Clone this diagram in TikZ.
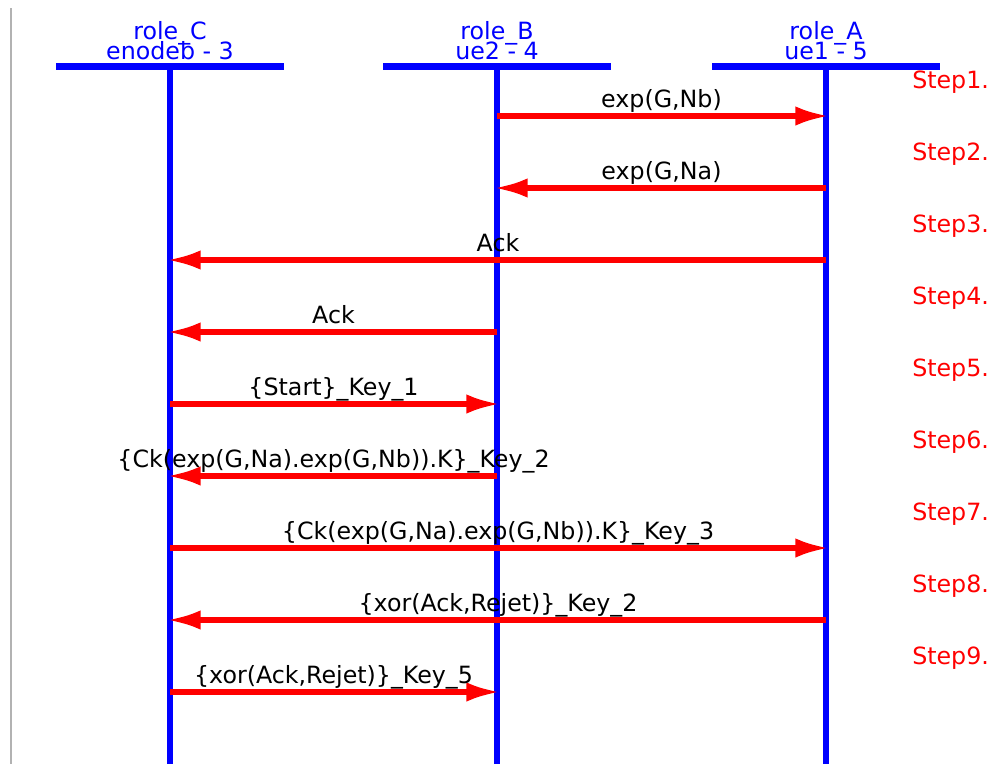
\documentclass[tikz,border=0pt]{standalone}
\usepackage{fontspec}
\setmainfont{DejaVu Sans}
\usetikzlibrary{arrows.meta}

\begin{document}
\begin{tikzpicture}[x=0.75pt,y=-0.75pt,
  role/.style={blue, font=\fontsize{17.8}{20}\selectfont, anchor=base, inner sep=0pt},
  bar/.style={blue, line width=5.25pt},
  life/.style={blue, line width=4.8pt},
  msg/.style={red, line width=4.5pt, shorten >=-3pt, -{Latex[length=26pt,width=14.5pt]}},
  lbl/.style={black, font=\fontsize{17.8}{20}\selectfont, anchor=base, inner sep=0pt, yshift=6.75pt},
  steplbl/.style={red, font=\fontsize{17.8}{20}\selectfont, anchor=base west, inner sep=0pt}]
\useasboundingbox (0,0) rectangle (989,764);
\draw[black!30, line width=1.5pt] (11,8) -- (11,764);

% roles with their lifelines, one coordinate per step
\foreach \r/\x/\who in {C/170/enodeb - 3, B/497/ue2 - 4, A/826/ue1 - 5} {
  \node[role] (role\r) at (\x,39) {role\_\r};
  \node[role] (agent\r) at (\x,59) {\who};
  \coordinate (top\r) at (\x,66);
  \coordinate (bot\r) at (\x,764);
  \draw[bar] ([xshift=-85.5pt]top\r) -- ([xshift=85.5pt]top\r);
  \draw[life] (top\r) -- (bot\r);
  \foreach \i in {1,...,9}
    \coordinate (\r\i) at (\x,44+72*\i);
}

% messages
\foreach \i/\s/\t/\txt in {
  1/B/A/{exp(G,Nb)},
  2/A/B/{exp(G,Na)},
  3/A/C/{Ack},
  4/B/C/{Ack},
  5/C/B/{\{Start\}\_Key\_1},
  6/B/C/{\{Ck(exp(G,Na).exp(G,Nb)).K\}\_Key\_2},
  7/C/A/{\{Ck(exp(G,Na).exp(G,Nb)).K\}\_Key\_3},
  8/A/C/{\{xor(Ack,Rejet)\}\_Key\_2},
  9/C/B/{\{xor(Ack,Rejet)\}\_Key\_5}} {
  \draw[msg] (\s\i) -- (\t\i);
  \path (\s\i) -- (\t\i) node[lbl, midway] (msg\i) {\txt};
  \node[steplbl] (step\i) at (912,16+72*\i) {Step\i.};
}
\end{tikzpicture}
\end{document}
